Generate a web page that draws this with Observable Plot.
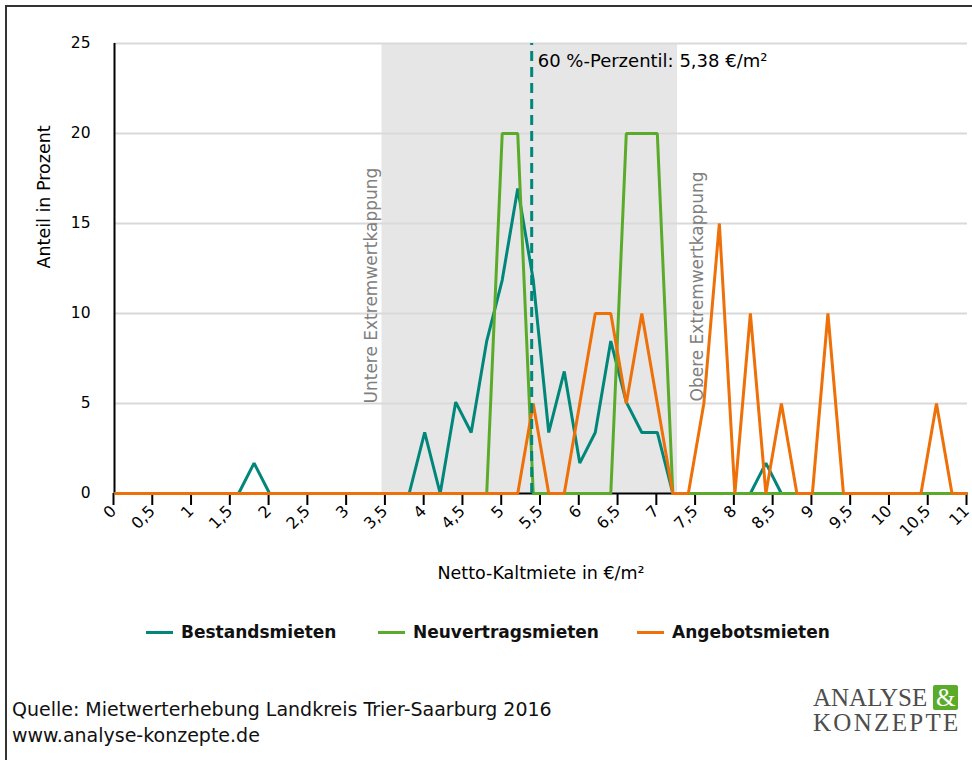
<!DOCTYPE html>
<html>
<head>
<meta charset="utf-8">
<script src="https://cdn.jsdelivr.net/npm/d3@7"></script>
<script src="https://cdn.jsdelivr.net/npm/@observablehq/plot@0.6"></script>
<style>
  html, body { margin: 0; padding: 0; background: #fff; }
  #wrap { position: relative; width: 972px; height: 760px; overflow: hidden; font-family: "DejaVu Sans", sans-serif; }
  #frame { position: absolute; left: 5px; top: 5px; width: 980px; height: 770px; border-top: 2px solid #333; border-left: 2px solid #333; box-sizing: border-box; }
  #chart { position: absolute; left: 0; top: 0; }
  #legend { position: absolute; left: 0; top: 620px; height: 24px; width: 972px; }
  .item { position: absolute; top: 0; height: 24px; display: flex; align-items: center; font-weight: bold; font-size: 17px; color: #111; }
  .sw { width: 27px; height: 3px; margin-right: 8px; }
  #caption { position: absolute; left: 12px; top: 696px; font-size: 19px; line-height: 26px; color: #111; }
  #logo { position: absolute; left: 813px; top: 685px; font-family: "Liberation Serif", serif; color: #4d4d4d; font-size: 25px; line-height: 25px; }
  #amp { display: inline-block; background: #5bab2a; color: #fff; width: 25px; height: 25px; text-align: center; margin-left: 6px; border-radius: 2px; }
</style>
</head>
<body>
<div id="wrap">
  <div id="frame"></div>
  <div id="chart"></div>
  <div id="legend"></div>
  <div id="caption">Quelle: Mietwerterhebung Landkreis Trier-Saarburg 2016<br>www.analyse-konzepte.de</div>
  <div id="logo"><div>ANALYSE<span id="amp">&amp;</span></div><div style="letter-spacing:2.3px">KONZEPTE</div></div>
</div>
<script>
// Rent classes (€/m²)
const rent = [0,0.2,0.4,0.6,0.8,1,1.2,1.4,1.6,1.8,2,2.2,2.4,2.6,2.8,3,3.2,3.4,3.6,3.8,4,4.2,4.4,4.6,4.8,5,5.2,5.4,5.6,5.8,6,6.2,6.4,6.6,6.8,7,7.2,7.4,7.6,7.8,8,8.2,8.4,8.6,8.8,9,9.2,9.4,9.6,9.8,10,10.2,10.4,10.6,10.8,11];
// Share in percent
const bestandsmieten = [0,0,0,0,0,0,0,0,0,1.69,0,0,0,0,0,0,0,0,0,0,3.39,0,5.08,3.39,8.47,11.86,16.95,11.86,3.39,6.78,1.69,3.39,8.47,5.08,3.39,3.39,0,0,0,0,0,0,1.69,0,0,0,0,0,0,0,0,0,0,0,0,0];
const neuvertragsmieten = [0,0,0,0,0,0,0,0,0,0,0,0,0,0,0,0,0,0,0,0,0,0,0,0,0,20,20,0,0,0,0,0,0,20,20,20,0,0,0,0,0,0,0,0,0,0,0,0,0,0,0,0,0,0,0,0];
const angebotsmieten = [0,0,0,0,0,0,0,0,0,0,0,0,0,0,0,0,0,0,0,0,0,0,0,0,0,0,0,5,0,0,5,10,10,5,10,5,0,0,5,15,0,10,0,5,0,0,10,0,0,0,0,0,0,5,0,0];
const seriesNames = ["Bestandsmieten", "Neuvertragsmieten", "Angebotsmieten"];
const seriesColors = ["#00877a", "#5bab2a", "#ee7008"];
const xTicks = [0,0.5,1,1.5,2,2.5,3,3.5,4,4.5,5,5.5,6,6.5,7,7.5,8,8.5,9,9.5,10,10.5,11];
const yTicks = [0,5,10,15,20,25];
const capBounds = [3.45, 7.26];          // Extremwertkappung (unten, oben)
const capLabels = ["Untere Extremwertkappung", "Obere Extremwertkappung"];
const percentile = [5.38];
const percentileLabel = ["60 %-Perzentil: 5,38 €/m²"];

const rows = [];
[bestandsmieten, neuvertragsmieten, angebotsmieten].forEach((vals, s) => {
  vals.forEach((v, i) => rows.push({x: rent[i], y: v, series: seriesNames[s]}));
});

const font = "DejaVu Sans, sans-serif";
const plot = Plot.plot({
  width: 972,
  height: 600,
  marginLeft: 114,
  marginRight: 5,
  marginTop: 43,
  marginBottom: 107,
  x: {domain: [0, 11]},
  y: {domain: [0, 25]},
  color: {domain: seriesNames, range: seriesColors},
  style: {fontFamily: font, fontSize: "16px", color: "#000", background: "transparent", overflow: "visible"},
  marks: [
    Plot.rect([{a: capBounds[0], b: capBounds[1]}], {x1: "a", x2: "b", y1: 0, y2: 25, fill: "#e6e6e6"}),
    Plot.ruleY(yTicks.filter(d => d > 0), {stroke: "#d9d9d9", strokeWidth: 2}),
    Plot.ruleY([0], {stroke: "#000", strokeWidth: 2}),
    Plot.axisY({ticks: yTicks, tickSize: 0, tickPadding: 24, label: null, fontSize: 15.5}),
    Plot.axisX({ticks: xTicks, tickFormat: d => String(d).replace(".", ","), tickRotate: -45, tickSize: 12, tickPadding: 3, strokeWidth: 2, label: null, fontSize: 16, dx: -1}),
    Plot.ruleX([0], {y1: 0, y2: 25, stroke: "#000", strokeWidth: 2}),
    Plot.line(rows, {x: "x", y: "y", z: "series", stroke: "series", strokeWidth: 3, strokeLinejoin: "miter", strokeLinecap: "butt"}),
    Plot.ruleX(percentile, {y1: 0, y2: 25, stroke: "#00877a", strokeWidth: 3, strokeDasharray: "10,6"}),
    Plot.text(percentileLabel, {x: percentile[0], y: 25, text: d => d, dx: 6, dy: 18, textAnchor: "start", lineAnchor: "middle", fontSize: 18, fill: "#000"}),
    Plot.text([capLabels[0]], {x: capBounds[0], y: 5, text: d => d, rotate: -90, textAnchor: "start", lineAnchor: "bottom", dx: -5, fontSize: 17, fill: "#808080"}),
    Plot.text([capLabels[1]], {x: capBounds[1], y: 5, text: d => d, rotate: -90, textAnchor: "start", lineAnchor: "bottom", dx: 26, dy: -2, fontSize: 17, fill: "#808080"}),
    Plot.text(["Netto-Kaltmiete in €/m²"], {frameAnchor: "bottom", text: d => d, dy: 85, fontSize: 17.5, fill: "#000"}),
    Plot.text(["Anteil in Prozent"], {frameAnchor: "left", text: d => d, rotate: -90, dx: -70, fontSize: 17.5, fill: "#000"})
  ]
});
document.getElementById("chart").appendChild(plot);

// Legend
const legendX = [146, 378, 637];
const legend = document.getElementById("legend");
seriesNames.forEach((name, i) => {
  const it = document.createElement("div");
  it.className = "item";
  it.style.left = legendX[i] + "px";
  const sw = document.createElement("div");
  sw.className = "sw";
  sw.style.background = seriesColors[i];
  it.appendChild(sw);
  const t = document.createElement("span");
  t.textContent = name;
  it.appendChild(t);
  legend.appendChild(it);
});
</script>
</body>
</html>
